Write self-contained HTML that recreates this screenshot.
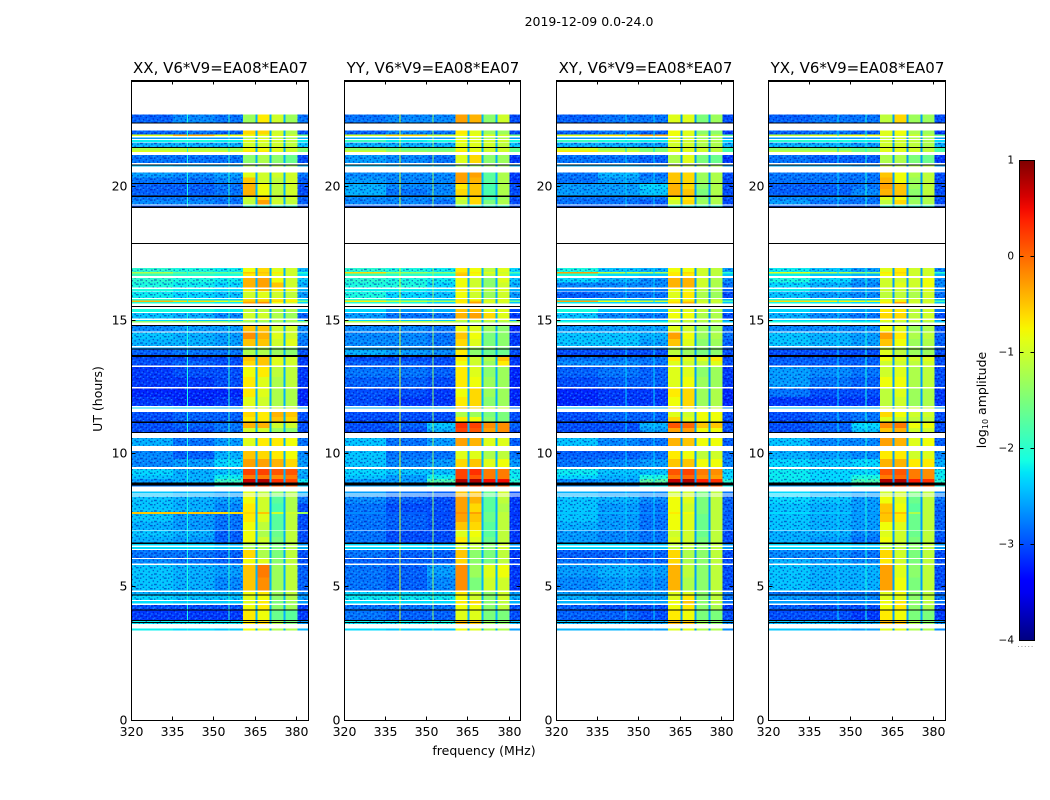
<!DOCTYPE html>
<html>
<head>
<meta charset="utf-8">
<title>2019-12-09 0.0-24.0</title>
<style>
html,body{margin:0;padding:0;background:#fff;}
svg{display:block;}
text{font-family:"DejaVu Sans","Liberation Sans",sans-serif;fill:#000;}
</style>
</head>
<body>
<svg id="fig" xmlns="http://www.w3.org/2000/svg" width="1050" height="800" viewBox="0 0 1050 800">
<defs>
<pattern id="speckle" width="14" height="10.5" patternUnits="userSpaceOnUse">
<g fill="#0000a0" fill-opacity="0.5">
<rect x="0" y="0" width="1.4" height="1.4"/><rect x="5.6" y="1.4" width="1.4" height="1.4"/><rect x="9.8" y="0" width="2.8" height="1.4"/>
<rect x="2.8" y="3.5" width="1.4" height="1.4"/><rect x="8.4" y="4.2" width="1.4" height="1.4"/><rect x="12.6" y="2.8" width="1.4" height="1.4"/>
<rect x="0" y="6.3" width="2.8" height="1.4"/><rect x="5.6" y="7" width="1.4" height="1.4"/><rect x="11.2" y="7" width="1.4" height="1.4"/>
<rect x="2.8" y="9.1" width="1.4" height="1.4"/><rect x="8.4" y="9.1" width="1.4" height="1.4"/>
</g>
<g fill="#30c8ff" fill-opacity="0.42">
<rect x="2.8" y="0" width="1.4" height="1.4"/><rect x="7" y="2.8" width="1.4" height="1.4"/><rect x="11.2" y="4.2" width="1.4" height="1.4"/>
<rect x="1.4" y="4.2" width="1.4" height="1.4"/><rect x="4.2" y="5.6" width="1.4" height="1.4"/><rect x="9.8" y="6.3" width="1.4" height="1.4"/>
<rect x="0" y="8.4" width="1.4" height="1.4"/><rect x="7" y="8.4" width="1.4" height="1.4"/><rect x="12.6" y="9.1" width="1.4" height="1.4"/>
</g>
</pattern>
<linearGradient id="jet-gradient" x1="0" y1="1" x2="0" y2="0"></linearGradient>
</defs>
</svg>
<script>
// Frequency column edges (MHz): three background bands, then four sub-bands separated by notches, then the tail.
const freqEdges = [320, 335, 350, 360.3, 364.8, 365.5, 369.9, 370.6, 374.9, 375.6, 380, 384];
// Time rows (UT hours): [top, bottom]. Gaps between rows are flagged/blank data.
const utRows = [
[22.73,22.43],[22.13,21.97],[21.97,21.91],[21.87,21.80],[21.76,21.70],[21.67,21.51],[21.46,21.37],[21.37,21.31],[21.20,20.90],[20.82,20.77],
[20.55,20.37],[20.37,20.16],[20.11,19.93],[19.93,19.69],[19.64,19.51],[19.51,19.35],[19.31,19.28],
[16.97,16.82],[16.82,16.76],[16.76,16.67],[16.60,16.42],[16.42,16.23],[16.18,16.10],[16.08,15.85],[15.81,15.75],[15.75,15.69],[15.69,15.64],
[15.43,15.32],[15.28,15.07],[15.02,14.98],[14.98,14.93],[14.79,14.59],[14.55,14.31],[14.31,14.04],[13.99,13.91],[13.91,13.71],[13.63,13.48],[13.48,13.31],
[13.25,12.88],[12.88,12.51],[12.45,12.13],[12.13,11.80],[11.73,11.70],[11.57,11.39],[11.39,11.21],[11.15,10.97],[10.97,10.82],[10.60,10.29],
[10.11,9.81],[9.81,9.51],[9.44,9.21],[9.21,9.06],[9.06,8.93],[8.82,8.80],
[8.58,8.52],[8.48,8.44],[8.40,8.13],[8.13,7.81],[7.81,7.75],[7.75,7.45],[7.45,7.15],[7.12,6.89],[6.89,6.67],[6.62,6.57],[6.51,6.44],
[6.39,6.10],[6.06,5.88],[5.84,5.36],[5.36,4.87],[4.82,4.68],[4.68,4.52],[4.48,4.38],[4.34,4.12],[4.12,3.77],[3.77,3.62],[3.45,3.38]
];
// Fully black (zero-amplitude) integrations, UT hours [top, bottom].
const blackRows = [[24,23.94],[22.43,22.38],[21.51,21.46],[20.85,20.82],[20.16,20.11],[19.69,19.64],[19.28,19.22],[17.91,17.87],[15.55,15.53],[14.83,14.79],[13.95,13.91],[13.71,13.63],[11.21,11.15],[10.82,10.78],[8.93,8.82],[6.67,6.62],[4.72,4.68],[4.16,4.12],[3.76,3.74],[3.69,3.67]];
// log10 amplitude per row: [320-335, 335-350, 350-360, sub-band 1..4, 380-384].
const valuesXX = [
[-2.9,-2.7,-2.8,-1.3,-.7,-1,-1.3,-2.8],[-2.9,-2.8,-2.9,-.6,-.6,-1,-1.2,-3],[-.9,-.4,-.8,-.8,-.9,-.9,-1,-1.5],[-2.6,-2.6,-2.6,-1.2,-1,-1.1,-1.2,-2.5],[-2.2,-2.1,-2.2,-.9,-.9,-1,-1.1,-2.2],[-2.5,-2.5,-2.5,-1,-1,-1,-1.1,-2.4],[-1.2,-1.2,-1.3,-.8,-.8,-.9,-1,-1.4],[-.9,-1,-1,-.7,-.7,-.9,-1,-1.5],[-2.8,-2.8,-2.8,-1.4,-1.2,-1.4,-1.6,-3],[-2.4,-2.5,-2.5,-1.2,-1.2,-1.2,-1.3,-2.5],
[-2.6,-2.7,-2.6,-.9,-1,-1,-1,-2.8],[-2.8,-2.8,-2.7,-.5,-1,-1.1,-1,-2.9],[-2.9,-2.9,-2.8,-.4,-.8,-1.1,-1,-3],[-2.9,-2.9,-2.8,-.4,-.8,-1.1,-1,-3],[-2.8,-2.8,-2.8,-1,-.6,-1.1,-1,-2.9],[-2.7,-2.7,-2.8,-1.1,-.3,-1,-1.1,-2.9],[-3,-3,-3,-2,-2,-2,-2,-3],
[-2,-2.1,-2.2,-.8,-.6,-.9,-1,-2.5],[-1.2,-1.6,-1.6,-.5,-.5,-.7,-1,-2],[-1.9,-2,-2.1,-.7,-.6,-.9,-1,-2.3],[-2,-2.1,-2.2,-.4,-.3,-.8,-1,-2.4],[-2.1,-2.2,-2.3,-.4,-.3,-.5,-1,-2.5],[-2.1,-2.2,-2.3,-.7,-.4,-.7,-.8,-2.5],[-2.2,-2.3,-2.4,-1,-.9,-1,-1.1,-2.6],[-2,-2.2,-2.3,-.6,-.6,-.7,-.8,-2.3],[-.4,-.6,-.9,-.5,-.5,-.6,-.7,-1.5],[-2,-2.1,-2.2,-.3,-.2,-.8,-1,-2.3],
[-2.1,-2.1,-2.2,-1.1,-1.1,-1.2,-1.2,-2.4],[-2.4,-2.5,-2.7,-1,-1,-1.2,-1.3,-2.9],[-2.3,-2.4,-2.4,-1.1,-1.1,-1.2,-1.2,-2.5],[-1.4,-1.4,-1.4,-1.3,-1.3,-1.3,-1.3,-1.5],[-2.7,-2.6,-2.6,-.5,-.5,-1,-1,-2.7],[-2.4,-2.5,-2.6,-.2,-.4,-.9,-1,-2.7],[-2.5,-2.5,-2.6,-.5,-.5,-1,-.9,-2.8],[-2.6,-2.6,-2.6,-1.5,-1.2,-1.4,-1.4,-2.8],[-2.9,-2.8,-2.8,-1.2,-1.2,-1.3,-1.4,-3],[-3,-3,-3,-.5,-.5,-.9,-1,-3.1],[-3,-2.9,-3,-.6,-.5,-.9,-1,-3.1],
[-3.1,-3,-3,-.8,-.7,-1.1,-1.1,-3.1],[-3.1,-3.1,-3,-.7,-.9,-1.2,-1.1,-3.1],[-3.2,-3.2,-3.2,-.7,-.9,-1.2,-1.2,-3.2],[-3.1,-3.2,-3.1,-.9,-1,-1.2,-1.2,-3.2],[-2.3,-2.4,-2.5,-.9,-.9,-1,-1,-2.5],[-3,-2.9,-2.9,-.6,-.7,-.4,-.5,-3],[-3,-2.9,-2.9,-.7,-.7,-.5,-.6,-3],[-3,-2.9,-2.8,-.4,-.4,-1,-1,-3],[-3,-3,-2.8,-1,-1,-1.3,-1.4,-3],[-2.5,-2.8,-2.6,-.9,-.7,-.7,-.8,-2.8],
[-2.7,-2.9,-2.5,-.5,-.6,-.7,-.8,-2.7],[-2.7,-2.6,-2.3,-.3,-.3,-.4,-.6,-2.6],[-2.3,-2.5,-2.4,.2,.2,.1,.1,-2.5],[-2.4,-2.5,-2.2,-.1,-.1,-.2,-.1,-2.6],[-2.6,-2.5,-1.9,.7,.8,.3,.2,-2.2],[-2.8,-2.8,-2.2,.2,.2,.1,.1,-2.4],
[-2.4,-2.5,-2.6,-.9,-1.1,-1.4,-1.2,-2.5],[-2.4,-2.5,-2.6,-.9,-1,-1.4,-1.1,-2.5],[-2.4,-2.5,-2.6,-.8,-1,-1.7,-1.2,-2.8],[-2.4,-2.5,-2.7,-.7,-1,-1.8,-1.2,-3],[-.5,-.5,-.6,-.6,-.5,-1,-1,-1.3],[-2.4,-2.6,-2.8,-.7,-.9,-1.7,-1.1,-3],[-2.5,-2.6,-2.8,-.8,-1.1,-1.7,-1.1,-3],[-2.4,-2.5,-2.9,-.8,-1.2,-1.6,-1.1,-3],[-2.5,-2.6,-2.9,-.8,-1,-1.5,-1.1,-3],[-2.3,-2.3,-2.5,-1.3,-1.2,-1.5,-1.2,-2.6],[-2.3,-2.3,-2.4,-1.2,-1.2,-1.5,-1.2,-2.5],
[-2.8,-2.8,-2.9,-.6,-1.2,-1.5,-1.1,-3],[-2.7,-2.8,-2.9,-.8,-.9,-1.4,-1.1,-3],[-2.4,-2.5,-2.6,-.5,-.1,-1.3,-1.1,-2.9],[-2.4,-2.5,-2.7,-.5,-.2,-1.3,-1.1,-2.9],[-2.5,-2.5,-2.5,-.8,-.7,-1.3,-1.1,-2.7],[-2.3,-2.4,-2.4,-.9,-.8,-1.4,-1.2,-2.6],[-2.3,-2.4,-2.4,-.9,-.7,-1.5,-1.3,-2.6],[-3,-3,-3,-.8,-.7,-1.4,-1.3,-3.1],[-3.1,-3.1,-3.1,-.7,-.8,-1.6,-1.7,-3.1],[-2.2,-2.2,-2.2,-.7,-.6,-1.2,-1.5,-2.6],[-2.2,-2.3,-2.4,-.8,-.9,-1.2,-1.2,-2.5]
];
const valuesYY = [
[-2.8,-2.7,-2.7,-.3,-.4,-1.4,-1,-3],[-2.9,-2.7,-2.8,-.7,-.9,-1.3,-1.3,-3],[-1,-.6,-1,-.8,-.8,-.9,-1,-1.5],[-2.5,-2.6,-2.6,-1,-1,-1.2,-1.2,-2.6],[-1.9,-2.2,-2.1,-.8,-.9,-1,-1,-2.1],[-2.5,-2.5,-2.5,-.9,-.9,-1,-1.1,-2.4],[-1.4,-1.6,-1.6,-.8,-.9,-1,-1,-1.6],[-1,-1.3,-1.4,-.7,-.8,-1,-1,-1.6],[-2.6,-2.7,-2.8,-.9,-.6,-1.4,-1.3,-3.1],[-2.4,-2.5,-2.5,-1.3,-1.3,-1.3,-1.3,-2.5],
[-2.7,-2.7,-2.7,-.3,-.3,-1.7,-1.2,-3.1],[-2.6,-2.7,-2.7,-.3,-.4,-1.7,-1.2,-3.1],[-2.5,-2.7,-2.7,-.7,-.5,-1.8,-1.2,-3],[-2.5,-2.8,-2.7,-.6,-.5,-1.8,-1.2,-3],[-2.7,-2.7,-2.7,-.9,-.6,-1.8,-1.3,-3],[-2.7,-2.7,-2.8,-1.1,-.6,-1.5,-1.2,-3],[-3,-3,-3,-2,-2,-2,-2,-3],
[-2,-2.1,-2.2,-.7,-.8,-1.1,-.9,-2.3],[-.6,-1.3,-1.4,-.6,-.7,-.9,-1,-1.8],[-1.9,-2,-2.1,-.5,-.8,-1.1,-.9,-2.3],[-2,-2.1,-2.2,-.8,-1,-1.4,-.9,-2.4],[-2.1,-2.1,-2.3,-.8,-1,-1.4,-1,-2.5],[-2.2,-2.2,-2.3,-.7,-.8,-1.1,-.9,-2.5],[-2.1,-2.3,-2.4,-.8,-1,-1.3,-1,-2.6],[-2,-2.2,-2.3,-.7,-.8,-1,-.9,-2.4],[-.7,-1.1,-1.2,-.7,-.5,-.9,-.9,-1.6],[-2,-2.1,-2.3,-.7,-.3,-1,-1,-2.4],
[-2.3,-2.6,-2.5,-.5,-.5,-.9,-.9,-3],[-2.6,-2.8,-2.8,-.4,-.3,-.6,-.9,-3.1],[-2.3,-2.4,-2.4,-1,-1,-1,-1,-2.6],[-1.2,-1.2,-1.2,-1.2,-1.2,-1.2,-1.2,-1.4],[-2.7,-2.7,-2.8,-.8,-.9,-1.3,-1.4,-3.2],[-2.7,-2.7,-2.8,-.5,-.8,-1.5,-1.4,-3.1],[-2.7,-2.7,-2.8,-.6,-.9,-1.5,-1.4,-3.1],[-2.6,-2.7,-2.7,-1.1,-1.3,-1.4,-1.5,-3],[-2.5,-2.6,-2.7,-.7,-1.4,-1.6,-1.6,-3],[-3,-3,-3,-.7,-1,-1.2,-.5,-3.1],[-2.9,-2.9,-3,-.8,-1,-1.3,-.7,-3.1],
[-2.8,-2.8,-2.9,-.7,-.9,-1.4,-1.3,-3.2],[-2.9,-2.9,-3,-.7,-.8,-1.3,-1.3,-3.2],[-3,-3,-3.1,-.8,-.6,-1.3,-1.3,-3.2],[-3,-3.1,-3.1,-.7,-.6,-1.4,-1.3,-3.2],[-2.5,-2.5,-2.5,-.5,-.6,-1,-1,-2.8],[-3,-3,-3,-1.2,-1.3,-1.5,-1.5,-3],[-3,-3,-3,-.7,-.8,-1.4,-1.5,-3],[-3,-2.9,-2.4,.3,.2,-.2,-.2,-2.9],[-3,-3,-2.5,.2,.1,-.3,-.2,-3],[-2.4,-2.8,-2.6,-.3,-.4,-.9,-.9,-2.9],
[-2.4,-2.8,-2.8,-.9,-.9,-1.2,-1.1,-2.8],[-2.4,-2.7,-2.6,-.6,-.5,-.9,-.8,-2.6],[-2.3,-2.4,-2.4,.2,.3,-.1,-.1,-2.2],[-2.4,-2.6,-2.2,.2,.1,-.1,-.1,-2.2],[-2.6,-2.6,-1.8,.8,.8,.5,.5,-2],[-2.6,-2.6,-2.2,.2,.2,.1,.1,-2.2],
[-2.6,-2.8,-2.9,-.5,-.5,-1.6,-1,-3],[-2.6,-2.8,-2.9,-.5,-.5,-1.6,-1,-3],[-2.7,-2.9,-3,-.3,-.4,-1.7,-1.1,-3.1],[-2.8,-3,-3,-.3,-.6,-1.7,-1.2,-3.1],[-2.7,-2.9,-3,-.2,-.3,-1.6,-1.1,-3.1],[-2.8,-2.9,-3,-.3,-.5,-1.6,-1.1,-3.1],[-2.8,-2.9,-3,-.5,-.6,-1.7,-1.1,-3.1],[-2.8,-3,-3,-.9,-.8,-1.7,-1.1,-3.1],[-2.8,-3,-3,-.7,-.9,-1.6,-1.1,-3.1],[-2.3,-2.3,-2.4,-1,-1.1,-1.4,-1,-2.6],[-2.3,-2.3,-2.4,-1,-1.1,-1.4,-1,-2.6],
[-2.8,-2.9,-2.9,-.5,-1.4,-1.5,-1.1,-3.1],[-2.9,-2.9,-2.9,-.6,-1.4,-1.5,-1.1,-3.1],[-2.8,-2.9,-2.6,-.2,-1.3,-.9,-.8,-3.1],[-2.8,-2.9,-2.7,-.2,-1.5,-1,-1,-3.1],[-2.3,-2.3,-2.3,-.7,-1,-1.4,-1,-2.6],[-2.2,-2.2,-2.2,-.8,-1,-1.4,-1,-2.5],[-2.3,-2.3,-2.3,-.7,-.6,-1.4,-1.1,-2.5],[-2.8,-2.8,-2.8,-.8,-.8,-1.4,-1.1,-3],[-2.8,-2.9,-2.9,-.9,-.9,-1.5,-1.5,-3],[-2.2,-2.2,-2.1,-.4,-.5,-1.3,-1.4,-2.4],[-2.3,-2.4,-2.4,-.8,-.9,-1.2,-1.2,-2.6]
];
const valuesXY = [
[-2.9,-2.8,-2.8,-.9,-.9,-1.5,-1.3,-3],[-2.9,-2.8,-2.9,-.8,-.9,-1.4,-1.4,-3.1],[-.9,-.7,-.4,-.8,-.9,-1.1,-1.1,-1.6],[-2.6,-2.6,-2.6,-1,-1,-1.3,-1.3,-2.6],[-1.9,-2.1,-2.2,-.9,-1,-1.1,-1.2,-2.3],[-2.5,-2.5,-2.6,-1,-1,-1.2,-1.2,-2.5],[-1,-1.3,-1.5,-.9,-.9,-1,-1.1,-1.8],[-.7,-1,-1.4,-.9,-.9,-1,-1.1,-1.8],[-2.8,-2.8,-2.9,-1.2,-.9,-1.5,-1.6,-3.1],[-2.5,-2.5,-2.6,-1,-1.1,-1.2,-1.2,-2.6],
[-2.8,-2.5,-2.8,-.5,-.6,-1.3,-1.2,-3],[-2.8,-2.6,-2.7,-.5,-.6,-1.3,-1.2,-3],[-2.6,-2.6,-2.3,-.4,-.6,-1.4,-1.2,-3],[-2.6,-2.6,-2.4,-.4,-.5,-1.5,-1.2,-3],[-2.8,-2.8,-2.8,-.8,-.7,-1.4,-1.2,-3],[-2.8,-2.8,-2.9,-1,-.6,-1.3,-1.2,-3],[-3,-3,-3,-2,-2,-2,-2,-3],
[-2.1,-2.4,-2.5,-.8,-.8,-1,-1.1,-2.6],[-.3,-1.1,-1.2,-.7,-.6,-1,-1.1,-2],[-2.1,-2.3,-2.4,-.7,-.7,-1,-1.1,-2.4],[-2.3,-2.5,-2.7,-.4,-.4,-1,-1.2,-2.7],[-2.7,-2.7,-2.7,-.4,-.4,-1,-1.2,-2.8],[-2.7,-2.7,-2.8,-.8,-.8,-1.1,-1.2,-2.9],[-2.9,-2.8,-2.8,-.9,-.7,-1.2,-1.3,-3],[-2.3,-2.4,-2.5,-.8,-.8,-1.1,-1.1,-2.5],[-.3,-.8,-1,-.7,-.6,-1,-1,-1.8],[-2.2,-2.3,-2.4,-.6,-.4,-1,-1.1,-2.4],
[-2.1,-2.4,-2.5,-.9,-.9,-1.1,-1.2,-2.7],[-2.4,-2.7,-2.8,-.8,-.8,-1.2,-1.2,-3],[-2.3,-2.4,-2.5,-1,-1,-1.1,-1.1,-2.6],[-2.1,-2.1,-2.2,-1.1,-1.1,-1.2,-1.2,-2.4],[-2.6,-2.6,-2.6,-.9,-1,-1.3,-1.3,-2.9],[-2.4,-2.4,-2.5,-.3,-.8,-1.3,-1.2,-2.8],[-2.4,-2.4,-2.6,-.5,-.9,-1.4,-1.3,-2.9],[-2.7,-2.7,-2.7,-1.2,-1.3,-1.4,-1.4,-2.9],[-3,-3,-3,-1.1,-1.3,-1.5,-1.4,-3],[-2.8,-2.8,-2.8,-.7,-.9,-.9,-.7,-3],[-2.7,-2.7,-2.8,-.9,-1,-1.1,-.9,-3],
[-2.9,-2.8,-2.9,-.9,-.9,-1.4,-1.3,-3.1],[-3,-2.9,-2.9,-.9,-.8,-1.3,-1.3,-3.1],[-3.2,-3.1,-3.1,-.7,-.6,-1.3,-1.2,-3.2],[-3.2,-3.1,-3.1,-.8,-.6,-1.3,-1.2,-3.2],[-2.4,-2.5,-2.5,-.7,-.7,-1,-1,-2.7],[-3,-2.9,-2.9,-.9,-1,-.8,-.8,-3],[-3,-2.9,-2.9,-.6,-.9,-.8,-.8,-3],[-3,-3,-2.5,.1,0,-.5,-.5,-3],[-3,-3,-2.6,-.3,-.3,-.8,-.8,-3],[-2.4,-2.7,-2.8,-.4,-.5,-.8,-.8,-2.9],
[-2.9,-2.9,-2.8,-.7,-.8,-1.1,-1,-2.8],[-2.8,-2.7,-2.6,-.5,-.5,-.8,-.8,-2.7],[-2.2,-2.4,-2.4,.1,.2,-.1,-.2,-2.3],[-2.3,-2.5,-2.1,-.1,0,-.2,-.3,-2.3],[-2.7,-2.6,-1.7,.7,.8,.4,.3,-2],[-2.7,-2.7,-2.2,.2,.2,.1,.1,-2.2],
[-2.5,-2.6,-2.7,-1,-1,-1.5,-1.1,-2.8],[-2.5,-2.6,-2.7,-1,-1,-1.5,-1.1,-2.8],[-2.4,-2.5,-2.7,-.8,-.9,-1.5,-1.1,-2.9],[-2.4,-2.6,-2.8,-.8,-1,-1.5,-1.1,-2.9],[-2.4,-2.5,-2.7,-.7,-.8,-1.5,-1.1,-2.9],[-2.4,-2.6,-2.8,-.8,-.9,-1.6,-1.1,-2.9],[-2.5,-2.6,-2.8,-.8,-.9,-1.6,-1.1,-2.9],[-2.6,-2.7,-2.8,-1,-1,-1.6,-1.1,-3],[-2.6,-2.7,-2.8,-.9,-1,-1.5,-1.1,-3],[-2.3,-2.3,-2.4,-1.1,-1.1,-1.4,-1.1,-2.6],[-2.3,-2.3,-2.4,-1.1,-1.1,-1.4,-1.1,-2.6],
[-2.9,-2.9,-2.9,-.6,-1.2,-1.4,-1.1,-3],[-2.8,-2.8,-2.9,-.6,-1.2,-1.4,-1.1,-3],[-2.6,-2.5,-2.6,-.4,-1.1,-1.4,-1.1,-3],[-2.7,-2.6,-2.7,-.4,-1.2,-1.4,-1.1,-3],[-2.6,-2.6,-2.6,-.9,-.9,-1.4,-1.1,-2.8],[-2.5,-2.6,-2.6,-.9,-.7,-1.4,-1.1,-2.8],[-2.5,-2.6,-2.6,-.8,-.5,-1.4,-1.1,-2.8],[-2.9,-3,-3,-.8,-.7,-1.4,-1.2,-3.1],[-2.9,-2.9,-3,-.7,-.8,-1.5,-1.5,-3],[-2.4,-2.4,-2.5,-.4,-.5,-1.3,-1.4,-2.6],[-2.5,-2.5,-2.6,-.9,-.9,-1.2,-1.2,-2.7]
];
const valuesYX = [
[-2.9,-2.8,-2.8,-1.1,-.6,-1.3,-1.3,-3],[-2.9,-2.8,-2.9,-.9,-.8,-1.2,-1.3,-3.1],[-1.1,-.9,-.8,-.9,-.9,-1,-1.1,-1.6],[-2.6,-2.6,-2.6,-1.1,-1,-1.2,-1.3,-2.6],[-2,-2.1,-2.2,-1,-1,-1.1,-1.2,-2.3],[-2.5,-2.5,-2.6,-1,-1,-1.1,-1.2,-2.5],[-1.4,-1.5,-1.6,-.9,-.9,-1,-1.1,-1.8],[-1.1,-1.1,-1.5,-.9,-.9,-1,-1.1,-1.8],[-2.8,-2.9,-2.9,-1.2,-1.2,-1.5,-1.6,-3.1],[-2.5,-2.5,-2.6,-1,-1.1,-1.2,-1.1,-2.6],
[-2.8,-2.8,-2.8,-.5,-.8,-1.2,-1.1,-3],[-2.8,-2.8,-2.8,-.4,-.8,-1.3,-1.1,-3],[-2.9,-2.9,-2.8,-.3,-.5,-1.3,-1.1,-3],[-2.9,-2.9,-2.7,-.4,-.5,-1.4,-1.1,-3],[-2.7,-2.7,-2.8,-.9,-.8,-1.4,-1.2,-3],[-2.6,-2.8,-2.8,-1.1,-.6,-1.3,-1.2,-3],[-3,-3,-3,-2,-2,-2,-2,-3],
[-2.2,-2.4,-2.6,-.9,-.7,-1,-1,-2.7],[-.9,-1.2,-1.4,-.7,-.6,-1,-1,-2],[-2.2,-2.4,-2.5,-.8,-.7,-1,-1,-2.5],[-2.1,-2.3,-2.6,-1,-1,-1,-.8,-2.7],[-2.3,-2.5,-2.7,-1,-.9,-1,-.8,-2.7],[-2.2,-2.4,-2.6,-1,-1,-1.1,-.9,-2.7],[-2.4,-2.6,-2.7,-1.1,-1.1,-1.2,-1,-2.8],[-2.1,-2.2,-2.4,-.9,-.9,-1,-1,-2.5],[-.6,-.7,-.8,-.8,-.7,-1,-1,-1.8],[-2.1,-2.2,-2.3,-.7,-.3,-1,-1,-2.4],
[-2.3,-2.5,-2.6,-.7,-.7,-1.1,-1,-2.8],[-2.5,-2.7,-2.8,-.6,-.6,-1.1,-1,-3],[-2.3,-2.4,-2.5,-.8,-.9,-1,-1,-2.6],[-2.1,-2.1,-2.2,-1,-1.1,-1.2,-1.2,-2.4],[-2.7,-2.7,-2.7,-.8,-.9,-1.3,-1.2,-3],[-2.4,-2.5,-2.6,-.3,-.7,-1.2,-1.1,-2.9],[-2.4,-2.5,-2.6,-.5,-.8,-1.3,-1.2,-2.9],[-2.7,-2.7,-2.7,-1.1,-1.2,-1.3,-1.3,-2.9],[-3,-3,-3,-.9,-1.1,-1.3,-1.3,-3],[-2.9,-2.9,-2.9,-.8,-.9,-1,-.9,-3],[-2.9,-2.9,-2.9,-1,-1,-1.1,-1,-3],
[-2.6,-2.7,-2.8,-1,-.9,-1.2,-1.1,-3],[-2.6,-2.8,-2.9,-.8,-.8,-1.2,-1.1,-3],[-2.8,-3,-3,-1.1,-.9,-1.3,-1.2,-3.1],[-3.1,-3.1,-3.1,-1.1,-1,-1.3,-1.2,-3.1],[-2.4,-2.5,-2.5,-.9,-.9,-1,-1,-2.6],[-3,-2.9,-2.8,-.6,-.8,-1,-1,-3],[-3,-2.9,-2.8,-.9,-1,-1.1,-1.1,-3],[-3,-2.9,-2.3,-.2,-.1,-.8,-.8,-3],[-3,-2.9,-2.4,-.5,-.4,-1,-1,-3],[-2.4,-2.7,-2.7,-.3,-.4,-.9,-.8,-2.9],
[-2.5,-2.6,-2.7,-.7,-.7,-1,-.9,-2.7],[-2.3,-2.4,-2.3,-.4,-.4,-.7,-.7,-2.5],[-2.2,-2.3,-2.3,.1,.1,-.1,-.2,-2.2],[-2.2,-2.3,-2.1,-.1,0,-.1,-.2,-2.2],[-2.2,-2.3,-1.8,.8,.8,.4,.3,-2],[-2.6,-2.6,-2.2,.2,.2,.1,.1,-2.2],
[-2.3,-2.5,-2.6,-1,-1,-1.5,-1.1,-2.7],[-2.3,-2.5,-2.6,-1,-1,-1.5,-1.1,-2.7],[-2.3,-2.4,-2.6,-.8,-.9,-1.6,-1.1,-2.8],[-2.4,-2.5,-2.6,-.5,-.8,-1.7,-1.1,-2.9],[-2.3,-2.4,-2.6,-.4,-.5,-1.2,-1.1,-2.9],[-2.4,-2.5,-2.6,-.5,-.7,-1.6,-1.1,-2.9],[-2.4,-2.5,-2.6,-.8,-.9,-1.6,-1.1,-2.9],[-2.5,-2.5,-2.7,-.9,-1,-1.6,-1.1,-2.9],[-2.5,-2.6,-2.8,-.8,-1,-1.5,-1.1,-3],[-2.3,-2.3,-2.4,-1.2,-1.1,-1.4,-1.1,-2.6],[-2.3,-2.3,-2.4,-1.1,-1.1,-1.4,-1.1,-2.6],
[-2.7,-2.7,-2.8,-.6,-1,-1.5,-1.1,-3],[-2.5,-2.6,-2.7,-.7,-1,-1.5,-1.1,-3],[-2.4,-2.5,-2.5,-.3,-.9,-1.4,-1.1,-3],[-2.4,-2.5,-2.5,-.3,-.8,-1.5,-1.1,-3],[-2.8,-2.8,-2.8,-.9,-.8,-1.4,-1.1,-2.9],[-2.6,-2.7,-2.7,-.9,-.9,-1.4,-1.1,-2.8],[-2.6,-2.7,-2.7,-.8,-.7,-1.4,-1.1,-2.8],[-2.9,-3,-3,-.8,-.7,-1.4,-1.2,-3.1],[-3,-3,-3.1,-.7,-.8,-1.5,-1.5,-3.1],[-2.4,-2.4,-2.5,-.4,-.5,-1.2,-1.4,-2.6],[-2.4,-2.5,-2.6,-.9,-.9,-1.2,-1.2,-2.7]
];
const panelNames = ["xx", "yy", "xy", "yx"];
const panelTitles = ["XX, V6*V9=EA08*EA07", "YY, V6*V9=EA08*EA07", "XY, V6*V9=EA08*EA07", "YX, V6*V9=EA08*EA07"];
const panelValues = [valuesXX, valuesYY, valuesXY, valuesYX];
// log10 amplitude inside the narrow notches between sub-bands, per panel.
const notchValues = [-2.5, -2.5, -2.6, -2.6];
// Narrow interference channels: frequency (MHz) and log10 amplitude, per panel.
const rfiFreqs = [[340, 355], [340, 352], [345, 355], [345, 355]];
const rfiValues = [[-2.1, -2.0], [-1.0, -1.4], [-2.3, -2.3], [-2.3, -2.1]];
const freqTicks = [320, 335, 350, 365, 380];
const utTicks = [0, 5, 10, 15, 20];
const colorbarTicks = [1, 0, -1, -2, -3, -4];

const NS = "http://www.w3.org/2000/svg";
const svg = document.getElementById("fig");
const layoutLeft = [131.5, 344.5, 556.5, 768.5];
const layoutRight = [308.5, 520.5, 733.5, 945.5];
const plotTop = 80.5, plotBottom = 720.5;

function xScale(freq, p) { return layoutLeft[p] + (freq - 320) / 64 * (layoutRight[p] - layoutLeft[p]); }
function yScale(ut) { return plotBottom - ut / 24 * (plotBottom - plotTop); }
function cbScale(v) { return 160 + (1 - v) / 5 * 480; }

function jetChannel(t, pts) {
  for (let i = 1; i < pts.length; i++) {
    if (t <= pts[i][0]) {
      const a = pts[i - 1], b = pts[i];
      return a[1] + (t - a[0]) / (b[0] - a[0]) * (b[1] - a[1]);
    }
  }
  return pts[pts.length - 1][1];
}
const jetR = [[0,0],[0.35,0],[0.66,1],[0.89,1],[1,0.5]];
const jetG = [[0,0],[0.125,0],[0.375,1],[0.64,1],[0.91,0],[1,0]];
const jetB = [[0,0.5],[0.11,1],[0.34,1],[0.65,0],[1,0]];
function jet(v) {
  const t = Math.max(0, Math.min(1, (v + 4) / 5));
  const c = [jetR, jetG, jetB].map(function (p) { return Math.round(jetChannel(t, p) * 255); });
  return "rgb(" + c.join(",") + ")";
}
function node(tag, attrs, parent) {
  const el = document.createElementNS(NS, tag);
  for (const k in attrs) el.setAttribute(k, attrs[k]);
  (parent || svg).appendChild(el);
  return el;
}

panelNames.forEach(function (name, p) {
  const g = node("g", {});
  
  
  const heat = node("g", { "shape-rendering": "crispEdges" }, g);
  
  
  const colMap = [0, 1, 2, 3, -1, 4, -1, 5, -1, 6, 7];
  utRows.forEach(function (row, r) {
    const y0 = yScale(row[0]), y1 = yScale(row[1]);
    colMap.forEach(function (c, i) {
      const v = c < 0 ? notchValues[p] : panelValues[p][r][c];
      const x0 = xScale(freqEdges[i], p), x1 = xScale(freqEdges[i + 1], p);
      const cell = node("rect", { x: x0, y: y0, width: x1 - x0, height: Math.max(y1 - y0, 1), fill: jet(v) }, heat);
      
      
    });
    const bgEnd = xScale(freqEdges[3], p);
    if (y1 - y0 >= 3) {
      const tex = node("rect", { x: layoutLeft[p], y: y0, width: bgEnd - layoutLeft[p], height: y1 - y0, fill: "url(#speckle)" }, heat);
      
      
      const tail = xScale(freqEdges[10], p);
      const tex2 = node("rect", { x: tail, y: y0, width: layoutRight[p] - tail, height: y1 - y0, fill: "url(#speckle)" }, heat);
      
      
    }
    rfiFreqs[p].forEach(function (f, k) {
      const line = node("rect", { x: xScale(f, p), y: y0, width: 1, height: Math.max(y1 - y0, 1), fill: jet(rfiValues[p][k]) }, heat);
      
      
    });
  });
  blackRows.forEach(function (row) {
    const x0 = layoutLeft[p], x1 = layoutRight[p];
    const bar = node("rect", { x: x0, y: yScale(row[0]), width: x1 - x0, height: Math.max(yScale(row[1]) - yScale(row[0]), 1), fill: "#000" }, heat);
    
    
  });
  const frame = node("rect", { x: layoutLeft[p], y: plotTop, width: layoutRight[p] - layoutLeft[p], height: plotBottom - plotTop, fill: "none", stroke: "#000", "stroke-width": 1 }, g);
  
  
  freqTicks.forEach(function (f) {
    const x = Math.round(xScale(f, p)) - 0.5;
    const t1 = node("line", { x1: x, x2: x, y1: plotBottom, y2: plotBottom - 4, stroke: "#000" }, g);
    
    
    const t2 = node("line", { x1: x, x2: x, y1: plotTop, y2: plotTop + 4, stroke: "#000" }, g);
    
    
    const lab = node("text", { x: x, y: 736, "font-size": 12.5, "text-anchor": "middle" }, g);
    lab.textContent = f;
    
    
  });
  utTicks.forEach(function (u) {
    const y = Math.round(yScale(u)) - 0.5;
    const t1 = node("line", { x1: layoutLeft[p], x2: layoutLeft[p] + 4, y1: y, y2: y, stroke: "#000" }, g);
    
    
    const t2 = node("line", { x1: layoutRight[p], x2: layoutRight[p] - 4, y1: y, y2: y, stroke: "#000" }, g);
    
    
    const lab = node("text", { x: layoutLeft[p] - 4, y: y + 4, "font-size": 12.5, "text-anchor": "end" }, g);
    lab.textContent = u;
    
    
  });
  const title = node("text", { x: (layoutLeft[p] + layoutRight[p]) / 2 + 0.5, y: 73, "font-size": 15, "text-anchor": "middle" }, g);
  title.textContent = panelTitles[p];
  
  
});

const figTitle = node("text", { x: 589, y: 26, "font-size": 12.5, "text-anchor": "middle" });
figTitle.textContent = "2019-12-09 0.0-24.0";


const xTitle = node("text", { x: 484, y: 755, "font-size": 12.5, "text-anchor": "middle" });
xTitle.textContent = "frequency (MHz)";


const yTitle = node("text", { x: 0, y: 0, "font-size": 12.5, "text-anchor": "middle", transform: "translate(102,399) rotate(-90)" });
yTitle.textContent = "UT (hours)";



// Colorbar
const grad = document.getElementById("jet-gradient");
for (let i = 0; i <= 40; i++) {
  node("stop", { offset: (i / 40), "stop-color": jet(-4 + i / 40 * 5) }, grad);
}
const cb = node("g", {});


const cbRect = node("rect", { x: 1019.5, y: 160.5, width: 15, height: 480, fill: "url(#jet-gradient)", stroke: "#000", "stroke-width": 1 }, cb);


colorbarTicks.forEach(function (v) {
  const y = Math.round(cbScale(v)) + 0.5;
  const a = node("line", { x1: 1019.5, x2: 1023.5, y1: y, y2: y, stroke: "#000" }, cb);
  
  
  const b = node("line", { x1: 1034.5, x2: 1030.5, y1: y, y2: y, stroke: "#000" }, cb);
  
  
  const lab = node("text", { x: 1014, y: y + 3, "font-size": 10.5, "text-anchor": "end" }, cb);
  lab.textContent = v < 0 ? "\u2212" + Math.abs(v) : String(v);
  
  
});
const dots = node("line", { x1: 1018, x2: 1035, y1: 646.5, y2: 646.5, stroke: "#999", "stroke-dasharray": "1 2.4" }, cb);


const cbTitle = node("text", { x: 0, y: 0, "font-size": 12.5, "text-anchor": "middle", transform: "translate(986,400) rotate(-90)" }, cb);


const t1 = node("tspan", {}, cbTitle);
t1.textContent = "log";
const t2 = node("tspan", { "font-size": 8, dy: 2 }, cbTitle);
t2.textContent = "10";
const t3 = node("tspan", { dy: -2 }, cbTitle);
t3.textContent = " amplitude";
</script>
</body>
</html>
